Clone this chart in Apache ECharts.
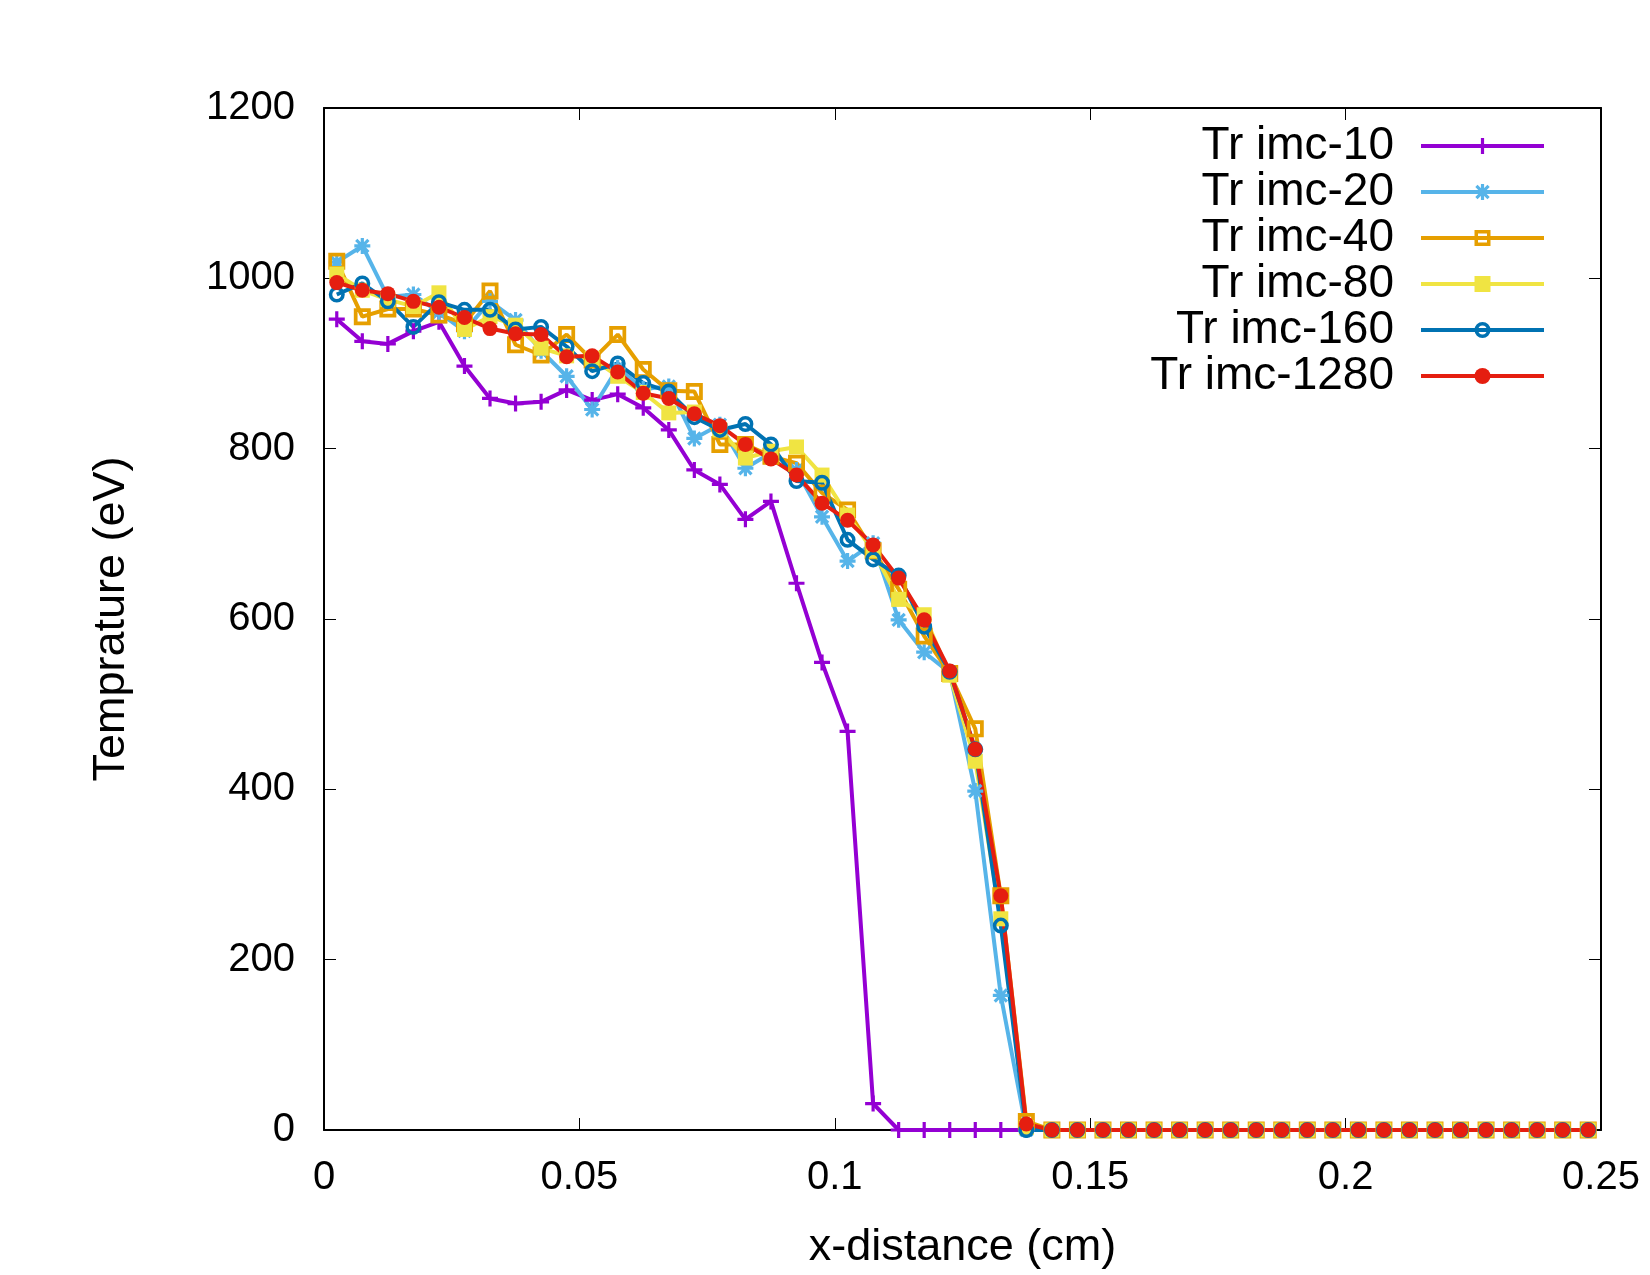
<!DOCTYPE html>
<html>
<head>
<meta charset="utf-8">
<script src="https://cdn.jsdelivr.net/npm/echarts@6/dist/echarts.min.js"></script>
<style>
  html, body { margin: 0; padding: 0; background: #fff; }
  #chart { width: 1650px; height: 1275px; }
</style>
</head>
<body>
<div id="chart"></div>
<script>
// x positions of the cells (cm)
const xs = [0.0025, 0.0075, 0.0125, 0.0175, 0.0225, 0.0275, 0.0325, 0.0375, 0.0425, 0.0475,
  0.0525, 0.0575, 0.0625, 0.0675, 0.0725, 0.0775, 0.0825, 0.0875, 0.0925, 0.0975,
  0.1025, 0.1075, 0.1125, 0.1175, 0.1225, 0.1275, 0.1325, 0.1375, 0.1425, 0.1475,
  0.1525, 0.1575, 0.1625, 0.1675, 0.1725, 0.1775, 0.1825, 0.1875, 0.1925, 0.1975,
  0.2025, 0.2075, 0.2125, 0.2175, 0.2225, 0.2275, 0.2325, 0.2375, 0.2425, 0.2475];

const imc10 = [952, 926, 923, 938, 949, 897, 859, 853, 855, 869, 857, 864, 848, 822, 775, 758, 717, 738, 642, 549,
  468, 31, 0, 0, 0, 0, 0, 0, 0, 0, 0, 0, 0, 0, 0, 0, 0, 0, 0, 0, 0, 0, 0, 0, 0, 0, 0, 0, 0, 0];
const imc20 = [1019, 1038, 978, 981, 960, 938, 973, 951, 915, 885, 846, 895, 870, 873, 812, 828, 777, 795, 775, 720,
  668, 689, 599, 561, 537, 398, 158, 0, 0, 0, 0, 0, 0, 0, 0, 0, 0, 0, 0, 0, 0, 0, 0, 0, 0, 0, 0, 0, 0, 0];
const imc40 = [1020, 955, 964, 964, 957, 947, 985, 922, 910, 934, 904, 934, 893, 868, 867, 805, 805, 791, 783, 748,
  728, 680, 635, 580, 536, 471, 275, 10, 0, 0, 0, 0, 0, 0, 0, 0, 0, 0, 0, 0, 0, 0, 0, 0, 0, 0, 0, 0, 0, 0];
const imc80 = [1005, 986, 975, 967, 983, 940, 955, 945, 918, 909, 906, 885, 866, 842, 843, 822, 789, 797, 802, 769,
  722, 680, 623, 605, 534, 433, 248, 3, 0, 0, 0, 0, 0, 0, 0, 0, 0, 0, 0, 0, 0, 0, 0, 0, 0, 0, 0, 0, 0, 0];
const imc160 = [981, 994, 973, 943, 972, 963, 963, 940, 943, 920, 891, 900, 877, 867, 837, 822, 829, 805, 762, 760,
  693, 670, 651, 591, 538, 447, 240, 0, 0, 0, 0, 0, 0, 0, 0, 0, 0, 0, 0, 0, 0, 0, 0, 0, 0, 0, 0, 0, 0, 0];
const imc1280 = [995, 986, 982, 973, 966, 954, 941, 935, 934, 908, 909, 890, 865, 859, 841, 827, 805, 788, 769, 736,
  716, 687, 648, 599, 539, 447, 275, 7, 0, 0, 0, 0, 0, 0, 0, 0, 0, 0, 0, 0, 0, 0, 0, 0, 0, 0, 0, 0, 0, 0];

const names = ['Tr imc-10', 'Tr imc-20', 'Tr imc-40', 'Tr imc-80', 'Tr imc-160', 'Tr imc-1280'];
const colors = ['#9400d3', '#56b4e9', '#e69f00', '#f0e442', '#0072b2', '#e51e10'];

// gnuplot-like point types
const PLUS = 'path://M4,0 H6 V10 H4 Z M0,4 H10 V6 H0 Z';
const STAR = 'path://M4,0 H6 V10 H4 Z M0,4 H10 V6 H0 Z M0.5,1.9 L1.9,0.5 L9.5,8.1 L8.1,9.5 Z M8.1,0.5 L9.5,1.9 L1.9,9.5 L0.5,8.1 Z';
const OPEN_SQ = 'path://M0,0 H10 V10 H0 Z M2.2,2.2 V7.8 H7.8 V2.2 Z';
const OPEN_CIRCLE = 'path://M0,5 A5,5 0 1,1 10,5 A5,5 0 1,1 0,5 Z M2.2,5 A2.8,2.8 0 1,0 7.8,5 A2.8,2.8 0 1,0 2.2,5 Z';
const symbols = [PLUS, STAR, OPEN_SQ, 'rect', OPEN_CIRCLE, 'circle'];
const sizes = [16, 16, 17, 15, 16, 15];

const allData = [imc10, imc20, imc40, imc80, imc160, imc1280];
const font = 'Liberation Sans, Arial, Helvetica, sans-serif';

const series = allData.map((vals, k) => ({
  name: names[k],
  type: 'line',
  data: vals.map((v, i) => [xs[i], v]),
  symbol: symbols[k],
  symbolSize: sizes[k],
  showAllSymbol: true,
  lineStyle: { color: colors[k], width: 4 },
  itemStyle: { color: colors[k] },
  emphasis: { disabled: true }
}));

const xFmt = v => String(+v.toFixed(2));
const yFmt = v => String(v);

const chart = echarts.init(document.getElementById('chart'));
chart.setOption({
  animation: false,
  backgroundColor: '#fff',
  textStyle: { fontFamily: font },
  grid: { left: 324, right: 49, top: 108, bottom: 144 },
  legend: {
    orient: 'vertical',
    right: 99,
    top: 118,
    align: 'right',
    itemWidth: 123,
    itemHeight: 20,
    itemGap: 0,
    data: names,
    lineStyle: { width: 4 },
    textStyle: { fontSize: 46, color: '#000', fontFamily: font, lineHeight: 46, padding: [0, 22, 0, 0] }
  },
  xAxis: [
    {
      type: 'value', min: 0, max: 0.25, interval: 0.05, position: 'bottom',
      name: 'x-distance (cm)', nameLocation: 'middle', nameGap: 95,
      nameTextStyle: { fontSize: 45, color: '#000', fontFamily: font },
      axisLine: { show: true, onZero: false, lineStyle: { color: '#000', width: 2 } },
      axisTick: { inside: true, length: 12, lineStyle: { color: '#000', width: 1 } },
      axisLabel: { fontSize: 40, color: '#000', margin: 28, formatter: xFmt, showMaxLabel: true },
      splitLine: { show: false }
    },
    {
      type: 'value', min: 0, max: 0.25, interval: 0.05, position: 'top',
      axisLine: { show: true, onZero: false, lineStyle: { color: '#000', width: 2 } },
      axisTick: { inside: true, length: 12, lineStyle: { color: '#000', width: 1 } },
      axisLabel: { show: false },
      splitLine: { show: false }
    }
  ],
  yAxis: [
    {
      type: 'value', min: 0, max: 1200, interval: 200, position: 'left',
      name: 'Temprature (eV)', nameLocation: 'middle', nameGap: 190,
      nameTextStyle: { fontSize: 45, color: '#000', fontFamily: font },
      axisLine: { show: true, onZero: false, lineStyle: { color: '#000', width: 2 } },
      axisTick: { inside: true, length: 12, lineStyle: { color: '#000', width: 1 } },
      axisLabel: { fontSize: 40, color: '#000', margin: 29, formatter: yFmt },
      splitLine: { show: false }
    },
    {
      type: 'value', min: 0, max: 1200, interval: 200, position: 'right',
      axisLine: { show: true, onZero: false, lineStyle: { color: '#000', width: 2 } },
      axisTick: { inside: true, length: 12, lineStyle: { color: '#000', width: 1 } },
      axisLabel: { show: false },
      splitLine: { show: false }
    }
  ],
  series: series
});
</script>
</body>
</html>
